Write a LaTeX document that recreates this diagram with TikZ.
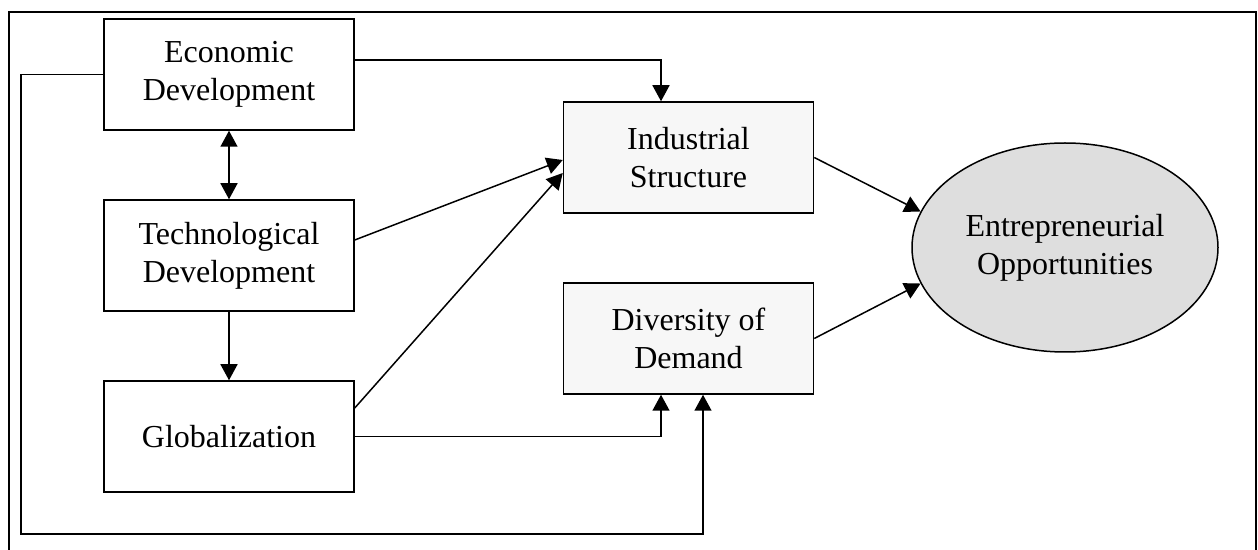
\documentclass[tikz,border=0pt]{standalone}
\usepackage{fontspec}
\setmainfont{Liberation Serif}
\usetikzlibrary{arrows.meta,shapes.geometric,calc}
\begin{document}
\begin{tikzpicture}[x=0.5pt,y=-0.5pt,
  box/.style={draw, line width=0.75pt, rectangle, minimum width=125pt, minimum height=55.5pt, inner sep=0pt, align=center, font=\fontsize{16}{19}\selectfont},
  graybox/.style={box, fill=black!3},
  oval/.style={draw, line width=0.75pt, ellipse, fill=black!13, minimum width=153pt, minimum height=104.5pt, inner sep=0pt, align=center, font=\fontsize{16}{19}\selectfont},
  arr/.style={line width=0.75pt, -{Triangle[length=8pt,width=8.5pt]}},
  darr/.style={line width=0.75pt, {Triangle[length=8pt,width=8.5pt]}-{Triangle[length=8pt,width=8.5pt]}},
  conn/.style={line width=0.75pt}]
\useasboundingbox (0,0) rectangle (1258,550);
% outer frame (bottom edge lies below the picture)
\draw[line width=1pt] (9,580) -- (9,12) -- (1256,12) -- (1256,580);
% nodes
\node[box] (econ) at (229,74.5) {Economic\\Development};
\node[box] (tech) at (229,255.5) {Technological\\Development};
\node[box] (glob) at (229,436.5) {Globalization};
\node[graybox] (ind) at (688.5,157.5) {Industrial\\Structure};
\node[graybox] (div) at (688.5,338.5) {Diversity of\\Demand};
\node[oval] (ent) at (1065,247.5) {Entrepreneurial\\Opportunities};
% connectors
\draw[darr] (econ.south) -- (tech.north);
\draw[arr] (tech.south) -- (glob.north);
\coordinate (indtop) at ($(ind.north)+(-27.5,0)$);
\draw[arr] ($(econ.east)+(0,-14.5)$) -| (indtop);
\draw[arr] ($(tech.east)+(0,-15.5)$) -- ($(ind.west)+(0,2.5)$);
\draw[arr] ($(glob.east)+(0,-28.5)$) -- ($(ind.west)+(0,15.5)$);
\coordinate (divbl) at ($(div.south)+(-27.5,0)$);
\coordinate (divbr) at ($(div.south)+(14.5,0)$);
\draw[arr] (glob.east) -| (divbl);
\coordinate (loopa) at (21,74.5);
\coordinate (loopb) at (21,534);
\draw[arr] (econ.west) -- (loopa) -- (loopb) -| (divbr);
\draw[arr] (ind.east) -- (ent.166);
\draw[arr] (div.east) -- (ent.194);
\end{tikzpicture}
\end{document}
